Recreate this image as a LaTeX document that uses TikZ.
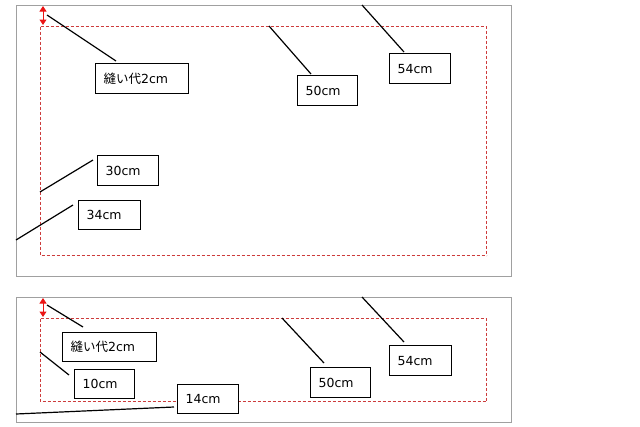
\documentclass[tikz,border=0pt]{standalone}
\usepackage{fontspec}
\setmainfont{DejaVu Sans}
\newfontfamily\jp{Noto Sans CJK JP}
\usetikzlibrary{arrows.meta,calc}
\definecolor{framegray}{RGB}{160,160,160}
\definecolor{seamred}{RGB}{205,60,60}
\definecolor{arrowred}{RGB}{235,20,20}
\tikzset{
  frame/.style={draw=framegray, line width=1pt},
  seam/.style={draw=seamred, line width=1pt, dash pattern=on 3pt off 2pt},
  marg/.style={draw=arrowred, line width=1pt, {Triangle[width=7pt,length=5.5pt]}-{Triangle[width=7pt,length=5.5pt]}},
  lead/.style={draw=black, line width=1.2pt},
  lab/.style={draw=black, fill=white, line width=1.3pt, inner xsep=8pt, inner ysep=0pt,
              align=left, anchor=north west, font=\fontsize{12.5}{14}\selectfont},
}
\newcommand\lbl[6]{\node[lab, text width=#4pt, minimum height=#5pt] (#1) at (#2,#3) {#6};}
\newcommand\seambox[4]{%
  \draw[seam] (#1,#2) -- (#3,#2) -- (#3,#4);
  \draw[seam] (#1,#2) -- (#1,#4) -- (#3,#4);}
\begin{document}
\begin{tikzpicture}[x=1pt,y=-1pt]
\useasboundingbox (0,0) rectangle (640,426);
% ---------- top panel ----------
\draw[frame] (16.5,5.5) rectangle (511.5,276.5);
\seambox{40.5}{26.5}{486.5}{255.5}
\coordinate (ta1) at (43,6);
\coordinate (ta2) at (43,25);
\draw[marg] (ta1) -- (ta2);
\coordinate (tc1) at (47,15);
\coordinate (tc2) at (269,26);
\coordinate (tc3) at (362,5);
\coordinate (tc4) at (40,192);
\coordinate (tc5) at (16,240);
\lbl{A1}{95}{63}{77}{30}{{\jp 縫い代}2cm}
\lbl{A2}{297}{75}{44}{30}{50cm}
\lbl{A3}{389}{53}{45}{30}{54cm}
\lbl{A4}{97}{155}{45}{30}{30cm}
\lbl{A5}{78}{200}{46}{29}{34cm}
\draw[lead] (tc1) -- ($(A1.north west)+(21,-2)$);
\draw[lead] (tc2) -- ($(A2.north west)+(14,-1)$);
\draw[lead] (tc3) -- ($(A3.north west)+(15,-1)$);
\draw[lead] (tc4) -- ($(A4.north west)+(-4,5)$);
\draw[lead] (tc5) -- ($(A5.north west)+(-5,5)$);
% ---------- bottom panel ----------
\draw[frame] (16.5,297.5) rectangle (511.5,422.5);
\seambox{40.5}{318.5}{486.5}{401.5}
\coordinate (ba1) at (43,298);
\coordinate (ba2) at (43,317);
\draw[marg] (ba1) -- (ba2);
\coordinate (bc1) at (47,305);
\coordinate (bc2) at (40,352);
\coordinate (bc3) at (16,414);
\coordinate (bc4) at (282,318);
\coordinate (bc5) at (362,297);
\lbl{B1}{62}{332}{78}{29}{{\jp 縫い代}2cm}
\lbl{B2}{74}{369}{44}{29}{10cm}
\lbl{B3}{177}{384}{45}{29}{14cm}
\lbl{B4}{310}{367}{44}{30}{50cm}
\lbl{B5}{389}{345}{46}{30}{54cm}
\draw[lead] (bc1) -- ($(B1.north west)+(21,-5)$);
\draw[lead] (bc2) -- ($(B2.north west)+(-5,6)$);
\draw[lead] (bc3) -- ($(B3.north west)+(-3,23)$);
\draw[lead] (bc4) -- ($(B4.north west)+(14,-4)$);
\draw[lead] (bc5) -- ($(B5.north west)+(15,-3)$);
\end{tikzpicture}
\end{document}
